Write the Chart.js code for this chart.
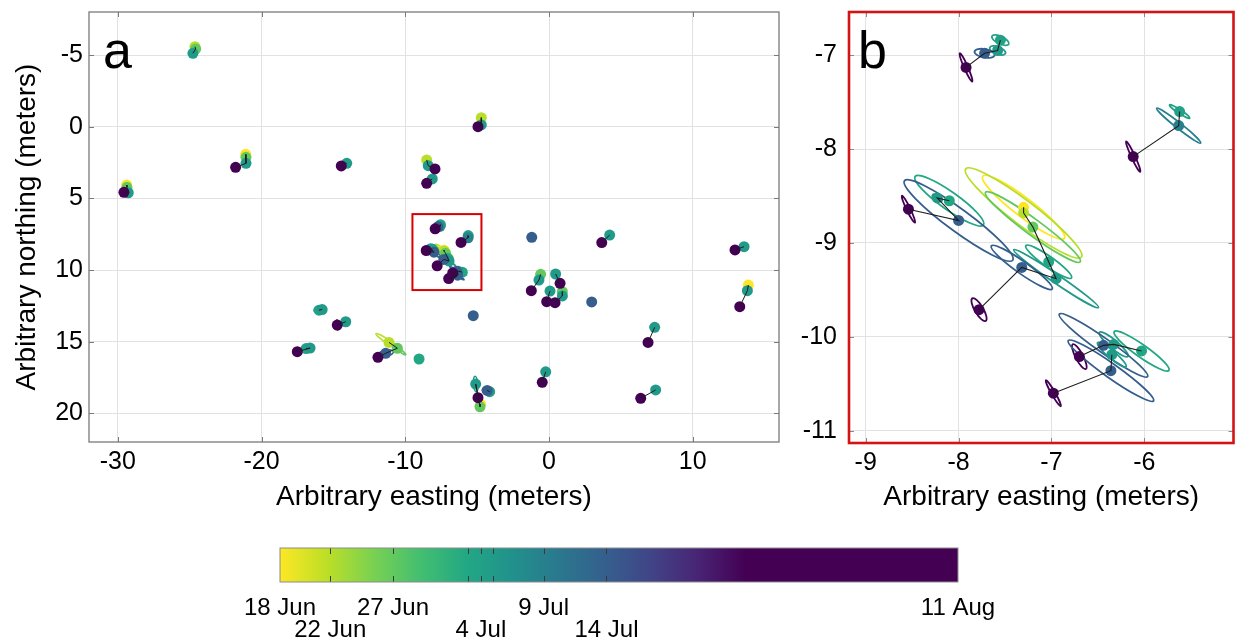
<!DOCTYPE html>
<html lang="en">
<head>
<meta charset="UTF-8">
<title>Station tracks</title>
<script src="https://cdn.jsdelivr.net/npm/chart.js@4"></script>
<style>
  html, body { margin: 0; padding: 0; background: #fff; }
  body { width: 1239px; height: 642px; position: relative; overflow: hidden;
         font-family: "Liberation Sans", Arial, sans-serif; }
  .box { position: absolute; }
  .letter { position: absolute; font-size: 52px; line-height: 1; color: #000; }
</style>
</head>
<body>
<div class="box" style="left:0;top:0;width:800px;height:520px"><canvas id="mapChart"></canvas></div>
<div class="box" style="left:800px;top:0;width:439px;height:520px"><canvas id="zoomChart"></canvas></div>
<div class="box" style="left:230px;top:530px;width:780px;height:112px"><canvas id="dateBar"></canvas></div>
<div class="letter" style="left:103px;top:24px">a</div>
<div class="letter" style="left:858px;top:24px">b</div>
<script>
// observation epochs (days after 18 Jun) and colour bar labels
const epochDays = [0, 4, 9, 15, 16, 17, 21, 26, 54];
const epochLabels = ['18 Jun', ['', '22 Jun'], '27 Jun', '', ['', '4 Jul'], '', '9 Jul', ['', '14 Jul'], '11 Aug'];
const colorFullDay = 37; // colour map reaches dark purple here
const viridis = ['#440154', '#482475', '#414487', '#355f8d', '#2a788e', '#21918c',
                 '#22a884', '#44bf70', '#7ad151', '#bddf26', '#fde725'];

// tracks: [easting, northing, day, (ellipse semi-major, semi-minor, angle deg)]
const overviewTracks = [
  [[-24.63, -5.58, 4], [-24.58, -5.42, 9], [-24.77, -5.12, 17]],
  [[-29.38, 4.07, 0], [-29.36, 4.23, 9], [-29.27, 4.61, 17], [-29.57, 4.58, 54]],
  [[-21.10, 1.93, 0], [-21.08, 2.14, 9], [-21.08, 2.56, 17], [-21.80, 2.84, 54]],
  [[-14.07, 2.56, 17], [-14.45, 2.74, 54]],
  [[-4.71, -0.63, 4], [-4.71, -0.12, 17], [-4.94, 0.00, 54]],
  [[-8.51, 2.32, 4], [-8.40, 2.72, 17], [-7.93, 2.95, 54]],
  [[-8.12, 3.65, 17], [-8.51, 3.95, 54]],
  [[-1.20, 7.72, 26]],
  [[4.22, 7.56, 17], [3.67, 8.09, 54]],
  [[13.57, 8.37, 17], [12.94, 8.60, 54]],
  [[-0.58, 10.30, 9], [-0.70, 10.70, 17], [-1.23, 11.44, 54]],
  [[0.46, 10.28, 17], [0.77, 10.93, 54]],
  [[0.07, 11.47, 17], [-0.16, 12.21, 54]],
  [[0.93, 11.51, 9], [0.93, 11.81, 17], [0.42, 12.28, 54]],
  [[2.97, 12.23, 26]],
  [[13.87, 11.05, 0], [13.80, 11.44, 17], [13.27, 12.56, 54]],
  [[-5.27, 13.19, 26]],
  [[7.35, 14.00, 17], [6.89, 15.05, 54]],
  [[-9.04, 16.21, 15]],
  [[-0.23, 17.10, 17], [-0.47, 17.84, 54]],
  [[7.42, 18.37, 17], [6.38, 18.95, 54]],
  [[-4.75, 19.37, 0], [-4.80, 19.54, 9], [-5.10, 17.96, 17, 0.55, 0.16, 85], [-4.94, 18.91, 54]],
  [[-4.13, 18.49, 17], [-4.30, 18.40, 26, 0.35, 0.18, 10]],
  [[-16.00, 12.80, 16, 0.35, 0.2, 0], [-15.78, 12.76, 17]],
  [[-14.14, 13.61, 17], [-14.73, 13.84, 54, 0.35, 0.08, 85]],
  [[-16.90, 15.48, 16], [-16.62, 15.45, 17], [-17.51, 15.70, 54]],
  [[-11.13, 15.05, 4, 1.1, 0.14, 34], [-10.55, 15.46, 9, 0.75, 0.1, 38], [-11.36, 15.81, 26, 0.55, 0.22, -12], [-11.90, 16.09, 54]]
];

const insetTracks = [
  [[-7.55, 6.84, 16, 0.10, 0.04, 25], [-7.58, 6.95, 17, 0.09, 0.04, 20], [-7.72, 6.98, 26, 0.11, 0.045, 10], [-7.92, 7.13, 54, 0.165, 0.02, 66]],
  [[-5.62, 7.60, 16, 0.13, 0.02, 33], [-5.63, 7.75, 21, 0.30, 0.03, 38], [-6.12, 8.08, 54, 0.18, 0.02, 65]],
  [[-8.10, 8.55, 15, 0.45, 0.095, 35], [-8.23, 8.52, 17, 0.06, 0.03, 30], [-8.00, 8.76, 26, 0.72, 0.12, 36], [-8.54, 8.64, 54, 0.16, 0.02, 64]],
  [[-7.30, 8.62, 0, 0.55, 0.10, 37], [-7.30, 8.68, 4, 0.78, 0.13, 37], [-7.20, 8.83, 9, 0.63, 0.085, 36], [-7.03, 9.20, 15, 0.30, 0.055, 35],
   [-6.95, 9.38, 17, 0.55, 0.045, 34], [-7.32, 9.26, 26, 0.40, 0.065, 35], [-7.78, 9.71, 54, 0.14, 0.045, 59]],
  [[-6.03, 10.15, 15, 0.36, 0.065, 35], [-6.33, 10.08, 17, 0.20, 0.045, 40], [-6.44, 10.09, 26, 0.58, 0.075, 35], [-6.70, 10.21, 54, 0.15, 0.04, 62]],
  [[-6.35, 10.19, 17, 0.20, 0.04, 40], [-6.36, 10.36, 26, 0.56, 0.075, 35], [-6.98, 10.60, 54, 0.16, 0.02, 60]]
];

const insetEast = [-9.5, -4.7];
const insetNorth = [6.1, 11.4];
const mapEastTicks = [-30, -20, -10, 0, 10];
const mapNorthTicks = [-5, 0, 5, 10, 15, 20];
const zoomEastTicks = [-9, -8, -7, -6];
const zoomNorthTicks = [-7, -8, -9, -10, -11];

Chart.defaults.font.family = '"Liberation Sans", Arial, sans-serif';
Chart.defaults.color = '#000';

function hexRgb(h) {
  return [1, 3, 5].map(i => parseInt(h.slice(i, i + 2), 16));
}
function dayColor(d) {
  const t = (1 - Math.min(d / colorFullDay, 1)) * (viridis.length - 1);
  const i = Math.min(Math.floor(t), viridis.length - 2);
  const f = t - i;
  const a = hexRgb(viridis[i]), b = hexRgb(viridis[i + 1]);
  const c = a.map((v, k) => Math.round(v + (b[k] - v) * f));
  return `rgb(${c[0]},${c[1]},${c[2]})`;
}

function buildDatasets(tracks, sign, radius, lineWidth) {
  const sets = [];
  tracks.forEach(t => {
    if (t.length < 2) return;
    sets.push({
      data: t.map(p => ({ x: p[0], y: sign * p[1] })),
      showLine: true, borderColor: '#1c1c1c', borderWidth: lineWidth,
      pointRadius: 0, order: 0
    });
  });
  const pts = [];
  tracks.forEach(t => t.forEach(p => pts.push({ x: p[0], y: sign * p[1], d: p[2] })));
  pts.sort((a, b) => a.d - b.d);
  sets.push({
    data: pts, showLine: false, order: 1,
    pointRadius: radius, pointBorderWidth: 0,
    pointBackgroundColor: c => (c.raw ? dayColor(c.raw.d) : '#000'),
    pointBorderColor: c => (c.raw ? dayColor(c.raw.d) : '#000')
  });
  return sets;
}

// error ellipses, drawn under the points
function ellipseLayer(tracks, sign, width) {
  return {
    id: 'errEllipses',
    beforeDatasetsDraw(chart) {
      const { ctx, chartArea: a, scales: { x, y } } = chart;
      ctx.save();
      ctx.beginPath();
      ctx.rect(a.left, a.top, a.width, a.height);
      ctx.clip();
      ctx.lineWidth = width;
      tracks.forEach(t => t.forEach(p => {
        if (p.length < 6) return;
        const [e, n, d, ma, mi, ang] = p;
        const r = ang * Math.PI / 180;
        const cx = x.getPixelForValue(e), cy = y.getPixelForValue(sign * n);
        const ax = x.getPixelForValue(e + ma * Math.cos(r)) - cx;
        const ay = y.getPixelForValue(sign * (n + ma * Math.sin(r))) - cy;
        const bx = x.getPixelForValue(e - mi * Math.sin(r)) - cx;
        const by = y.getPixelForValue(sign * (n + mi * Math.cos(r))) - cy;
        ctx.strokeStyle = dayColor(d);
        ctx.beginPath();
        ctx.ellipse(cx, cy, Math.hypot(ax, ay), Math.hypot(bx, by), Math.atan2(ay, ax), 0, 2 * Math.PI);
        ctx.stroke();
      }));
      ctx.restore();
    }
  };
}

// axes box with inward ticks, optional inset rectangle
function frameLayer(boxColor, boxWidth, tickColor, tickLen, inset) {
  return {
    id: 'frame',
    afterDraw(chart) {
      const { ctx, chartArea: a, scales: { x, y } } = chart;
      ctx.save();
      ctx.strokeStyle = tickColor;
      ctx.lineWidth = 1;
      ctx.beginPath();
      x.ticks.forEach(t => {
        const px = Math.round(x.getPixelForValue(t.value)) + 0.5;
        ctx.moveTo(px, a.top); ctx.lineTo(px, a.top + tickLen);
        ctx.moveTo(px, a.bottom); ctx.lineTo(px, a.bottom - tickLen);
      });
      y.ticks.forEach(t => {
        const py = Math.round(y.getPixelForValue(t.value)) + 0.5;
        ctx.moveTo(a.left, py); ctx.lineTo(a.left + tickLen, py);
        ctx.moveTo(a.right, py); ctx.lineTo(a.right - tickLen, py);
      });
      ctx.stroke();
      ctx.strokeStyle = boxColor;
      ctx.lineWidth = boxWidth;
      ctx.strokeRect(a.left, a.top, a.width, a.height);
      if (inset) {
        const x0 = x.getPixelForValue(inset[0][0]), x1 = x.getPixelForValue(inset[0][1]);
        const y0 = y.getPixelForValue(inset[1][0]), y1 = y.getPixelForValue(inset[1][1]);
        ctx.strokeStyle = '#d90000';
        ctx.lineWidth = 2;
        ctx.strokeRect(x0, y0, x1 - x0, y1 - y0);
      }
      ctx.restore();
    }
  };
}

function fixedTicks(vals) {
  return s => { s.ticks = vals.map(v => ({ value: v })); };
}
// fixed axis size, no extra label overhang padding
function fixSize(prop, size) {
  return s => {
    s[prop] = size;
    s.paddingTop = 0; s.paddingBottom = 0; s.paddingLeft = 0; s.paddingRight = 0;
  };
}

const gridStyle = { color: '#e2e2e2', lineWidth: 1, drawTicks: false };
const tickFont = { size: 25 };
const titleFont = { size: 28 };

new Chart(document.getElementById('mapChart'), {
  type: 'scatter',
  data: { datasets: buildDatasets(overviewTracks.concat(insetTracks), 1, 5.5, 1) },
  options: {
    responsive: true, maintainAspectRatio: false, animation: false,
    layout: { padding: { top: 12, right: 21, left: 0, bottom: 0 } },
    plugins: { legend: { display: false }, tooltip: { enabled: false } },
    scales: {
      x: {
        type: 'linear', min: -32, max: 16,
        afterBuildTicks: fixedTicks(mapEastTicks),
        afterFit: fixSize('height', 78),
        grid: gridStyle, border: { display: false },
        ticks: { font: tickFont, padding: 5, maxRotation: 0, autoSkip: false },
        title: { display: true, text: 'Arbitrary easting (meters)', font: titleFont, padding: { top: 0, bottom: 6 } }
      },
      y: {
        type: 'linear', reverse: true, min: -8, max: 22,
        afterBuildTicks: fixedTicks(mapNorthTicks),
        afterFit: fixSize('width', 89),
        grid: gridStyle, border: { display: false },
        ticks: { font: tickFont, padding: 6, autoSkip: false },
        title: { display: true, text: 'Arbitrary northing (meters)', font: titleFont, padding: { top: 10, bottom: 0 } }
      }
    }
  },
  plugins: [ellipseLayer(overviewTracks.concat(insetTracks), 1, 1.5),
            frameLayer('#7a7a7a', 1.3, '#7a7a7a', 5, [insetEast, insetNorth])]
});

new Chart(document.getElementById('zoomChart'), {
  type: 'scatter',
  data: { datasets: buildDatasets(insetTracks, -1, 5.5, 1.1) },
  options: {
    responsive: true, maintainAspectRatio: false, animation: false,
    layout: { padding: { top: 12, right: 1, left: 0, bottom: 0 } },
    plugins: { legend: { display: false }, tooltip: { enabled: false } },
    scales: {
      x: {
        type: 'linear', min: -9.18, max: -5.04,
        afterBuildTicks: fixedTicks(zoomEastTicks),
        afterFit: fixSize('height', 77),
        grid: gridStyle, border: { display: false },
        ticks: { font: tickFont, padding: 5, maxRotation: 0, autoSkip: false },
        title: { display: true, text: 'Arbitrary easting (meters)', font: titleFont, padding: { top: 0, bottom: 6 } }
      },
      y: {
        type: 'linear', min: -11.13, max: -6.54,
        afterBuildTicks: fixedTicks(zoomNorthTicks),
        afterFit: fixSize('width', 49),
        grid: gridStyle, border: { display: false },
        ticks: { font: tickFont, padding: 12, autoSkip: false }
      }
    }
  },
  plugins: [ellipseLayer(insetTracks, -1, 1.8),
            frameLayer('#d41414', 2.6, '#8a8a8a', 5, null)]
});

new Chart(document.getElementById('dateBar'), {
  type: 'bar',
  data: {
    labels: ['dates'],
    datasets: [{
      data: [[epochDays[0], epochDays[epochDays.length - 1]]],
      barPercentage: 1, categoryPercentage: 1, borderWidth: 0, borderSkipped: false,
      backgroundColor: c => {
        const chart = c.chart;
        if (!chart.chartArea) return 'transparent';
        const xs = chart.scales.x;
        const last = epochDays[epochDays.length - 1];
        const g = chart.ctx.createLinearGradient(xs.getPixelForValue(0), 0, xs.getPixelForValue(last), 0);
        viridis.forEach((col, k) => {
          g.addColorStop(colorFullDay * (1 - k / (viridis.length - 1)) / last, col);
        });
        g.addColorStop(1, viridis[0]);
        return g;
      }
    }]
  },
  options: {
    indexAxis: 'y',
    responsive: true, maintainAspectRatio: false, animation: false,
    layout: { padding: { top: 18, right: 52, left: 50, bottom: 0 } },
    plugins: { legend: { display: false }, tooltip: { enabled: false } },
    scales: {
      x: {
        type: 'linear', min: epochDays[0], max: epochDays[epochDays.length - 1],
        afterBuildTicks: fixedTicks(epochDays),
        afterFit: fixSize('height', 60),
        grid: { display: false, drawTicks: false }, border: { display: false },
        ticks: {
          font: { size: 24, lineHeight: 0.92 }, padding: 15, maxRotation: 0, autoSkip: false,
          callback: (v, i) => epochLabels[i]
        }
      },
      y: { display: false }
    }
  },
  plugins: [{
    id: 'barFrame',
    afterDraw(chart) {
      const { ctx, chartArea: a, scales: { x } } = chart;
      ctx.save();
      ctx.strokeStyle = '#3a3a3a';
      ctx.lineWidth = 1;
      ctx.beginPath();
      epochDays.slice(1, -1).forEach(d => {
        const px = Math.round(x.getPixelForValue(d)) + 0.5;
        ctx.moveTo(px, a.top); ctx.lineTo(px, a.top + 6);
        ctx.moveTo(px, a.bottom); ctx.lineTo(px, a.bottom - 6);
      });
      ctx.stroke();
      ctx.strokeStyle = '#8c8c8c';
      ctx.strokeRect(a.left, a.top, a.width, a.height);
      ctx.restore();
    }
  }]
});
</script>
</body>
</html>
